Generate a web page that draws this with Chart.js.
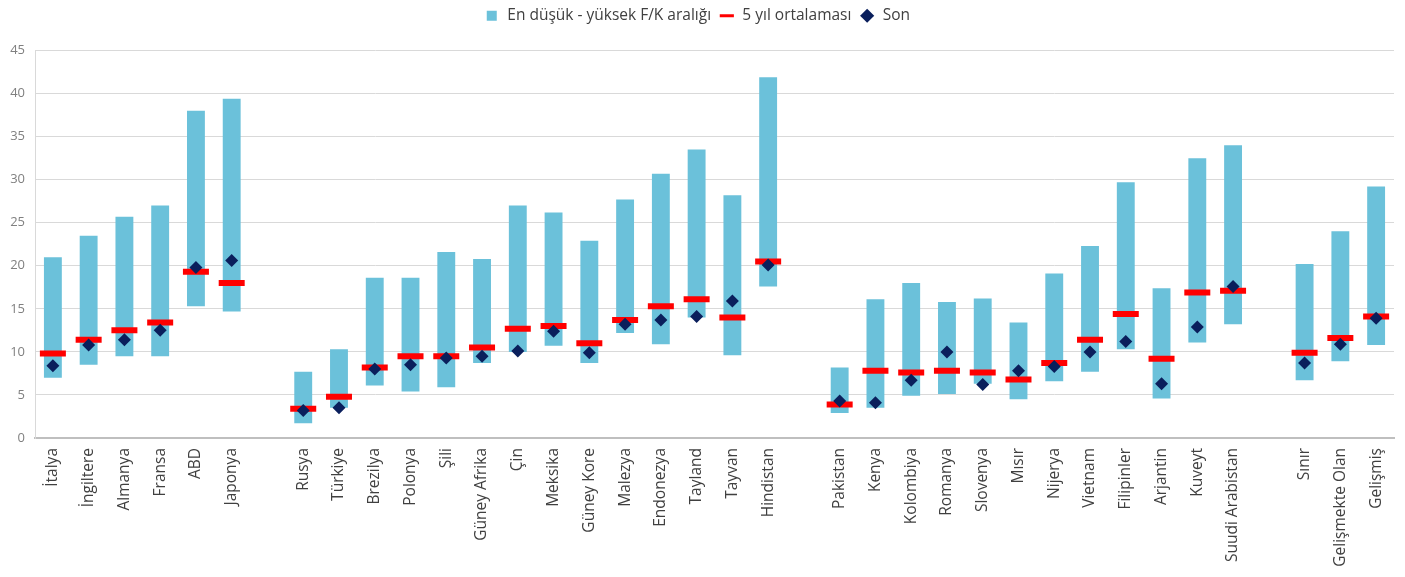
<!DOCTYPE html>
<html lang="tr">
<head>
<meta charset="utf-8">
<title>F/K aralıkları</title>
<script src="https://cdn.jsdelivr.net/npm/chart.js@4/dist/chart.umd.min.js"></script>
<style>
  html, body { margin: 0; padding: 0; background: #ffffff; }
  #wrap { width: 1405px; height: 577px; position: relative; }
</style>
</head>
<body>
<div id="wrap"><canvas id="chart"></canvas></div>
<script>
// Ülkeler (boş etiketler gruplar arasındaki boşluklar)
const categories = [
  'İtalya', 'İngiltere', 'Almanya', 'Fransa', 'ABD', 'Japonya', '',
  'Rusya', 'Türkiye', 'Brezilya', 'Polonya', 'Şili', 'Güney Afrika', 'Çin',
  'Meksika', 'Güney Kore', 'Malezya', 'Endonezya', 'Tayland', 'Tayvan', 'Hindistan', '',
  'Pakistan', 'Kenya', 'Kolombiya', 'Romanya', 'Slovenya', 'Mısır', 'Nijerya',
  'Vietnam', 'Filipinler', 'Arjantin', 'Kuveyt', 'Suudi Arabistan', '',
  'Sınır', 'Gelişmekte Olan', 'Gelişmiş'
];

// En düşük F/K
const lows = [
  7.0, 8.5, 9.5, 9.5, 15.3, 14.7, null,
  1.7, 3.5, 6.1, 5.4, 5.9, 8.7, 10.0, 10.7, 8.7, 12.2, 10.9, 14.0, 9.6, 17.6, null,
  2.9, 3.5, 4.9, 5.1, 6.3, 4.5, 6.6, 7.7, 10.3, 4.6, 11.1, 13.2, null,
  6.7, 8.9, 10.8
];

// En yüksek F/K
const highs = [
  21.0, 23.5, 25.7, 27.0, 38.0, 39.4, null,
  7.7, 10.3, 18.6, 18.6, 21.6, 20.8, 27.0, 26.2, 22.9, 27.7, 30.7, 33.5, 28.2, 41.9, null,
  8.2, 16.1, 18.0, 15.8, 16.2, 13.4, 19.1, 22.3, 29.7, 17.4, 32.5, 34.0, null,
  20.2, 24.0, 29.2
];

// 5 yıl ortalaması
const avg5 = [
  9.8, 11.4, 12.5, 13.4, 19.3, 18.0, null,
  3.4, 4.8, 8.2, 9.5, 9.5, 10.5, 12.7, 13.0, 11.0, 13.7, 15.3, 16.1, 14.0, 20.5, null,
  3.9, 7.8, 7.6, 7.8, 7.6, 6.8, 8.7, 11.4, 14.4, 9.2, 16.9, 17.1, null,
  9.9, 11.6, 14.1
];

// Son değer
const latest = [
  8.4, 10.8, 11.4, 12.5, 19.8, 20.6, null,
  3.2, 3.5, 8.0, 8.5, 9.3, 9.5, 10.1, 12.4, 9.9, 13.2, 13.7, 14.1, 15.9, 20.1, null,
  4.3, 4.1, 6.7, 10.0, 6.2, 7.8, 8.3, 10.0, 11.2, 6.3, 12.9, 17.6, null,
  8.7, 10.9, 13.9
];

const yTicks = { min: 0, max: 45, step: 5 };

const ranges = lows.map((lo, i) => (lo === null ? null : [lo, highs[i]]));

const FONT = "'Open Sans', 'Noto Sans', sans-serif";

// Lejant ile çizim alanı arasında ek boşluk
const legendGap = {
  id: 'legendGap',
  beforeInit(chart) {
    const origFit = chart.legend.fit;
    chart.legend.fit = function () {
      origFit.call(this);
      this.height += 17;
    };
  }
};

new Chart(document.getElementById('chart'), {
  type: 'bar',
  data: {
    labels: categories,
    datasets: [
      {
        label: 'En düşük - yüksek F/K aralığı',
        data: ranges,
        backgroundColor: '#6bc1da',
        borderWidth: 0,
        barPercentage: 0.5,
        categoryPercentage: 1.0,
        pointStyle: 'rect',
        order: 3
      },
      {
        type: 'line',
        label: '5 yıl ortalaması',
        data: avg5,
        showLine: false,
        pointStyle: 'line',
        pointRadius: 13,
        pointHoverRadius: 13,
        pointBorderWidth: 6,
        pointHoverBorderWidth: 6,
        borderColor: '#ff0000',
        backgroundColor: '#ff0000',
        borderWidth: 6,
        order: 2
      },
      {
        type: 'line',
        label: 'Son',
        data: latest,
        showLine: false,
        pointStyle: 'rectRot',
        pointRadius: 6.5,
        pointHoverRadius: 6.5,
        pointBorderWidth: 0,
        borderColor: '#0a1f5c',
        backgroundColor: '#0a1f5c',
        order: 1
      }
    ]
  },
  options: {
    responsive: true,
    maintainAspectRatio: false,
    animation: false,
    layout: { autoPadding: false, padding: { top: 0, right: 11, bottom: 0, left: 0 } },
    plugins: {
      tooltip: { enabled: false },
      legend: {
        position: 'top',
        align: 'center',
        labels: {
          usePointStyle: true,
          boxHeight: 10,
          padding: 8,
          color: '#404040',
          font: { family: FONT, size: 15.5 },
          sort: (a, b) => a.datasetIndex - b.datasetIndex,
          generateLabels(chart) {
            const items = Chart.defaults.plugins.legend.labels.generateLabels(chart);
            items.forEach(it => {
              if (it.datasetIndex === 1) { it.lineWidth = 3; }
              if (it.datasetIndex === 2) { it.lineWidth = 0; }
            });
            return items;
          }
        }
      }
    },
    scales: {
      x: {
        grid: {
          display: true,
          drawOnChartArea: false,
          drawTicks: true,
          tickLength: 10,
          tickColor: 'rgba(0,0,0,0)'
        },
        border: { display: true, color: '#bfbfbf', width: 2 },
        ticks: {
          autoSkip: false,
          maxRotation: 90,
          minRotation: 90,
          padding: 0,
          color: '#404040',
          font: { family: FONT, size: 15.5 }
        },
        afterFit(scale) { scale.height = 139; }
      },
      y: {
        min: yTicks.min,
        max: yTicks.max,
        grid: { color: '#d9d9d9', lineWidth: 1, drawTicks: false },
        border: { display: true, color: '#d9d9d9', width: 1 },
        ticks: {
          stepSize: yTicks.step,
          padding: 10,
          color: '#808080',
          font: { family: FONT, size: 13 }
        },
        afterFit(scale) { scale.width = 35; }
      }
    }
  },
  plugins: [legendGap]
});
</script>
</body>
</html>
